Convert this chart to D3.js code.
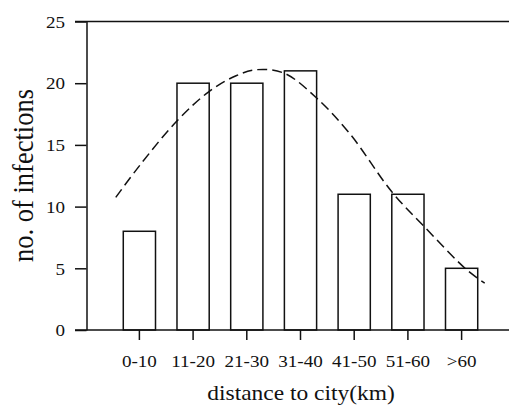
<!DOCTYPE html>
<html>
<head>
<meta charset="utf-8">
<script src="https://cdn.jsdelivr.net/npm/d3@7"></script>
<style>
  body { margin: 0; background: #fff; }
  text { font-family: "Liberation Serif", "Times New Roman", serif; fill: #111; }
</style>
</head>
<body>
<svg id="chart" width="510" height="409"></svg>
<script>
// categories and counts
var categories = ["0-10", "11-20", "21-30", "31-40", "41-50", "51-60", ">60"];
var infections = [8, 20, 20, 21, 11, 11, 5];
var yTicks = [0, 5, 10, 15, 20, 25];

// fitted curve (x = category position, 0 = first bar)
var curveX = [-0.44, 0.0, 0.69, 1.29, 1.8, 2.2, 2.7, 3.3, 3.92, 4.7, 5.3, 6.09, 6.43];
var curveY = [10.75, 13.3, 16.9, 19.3, 20.6, 21.1, 20.8, 18.8, 15.9, 11.2, 8.4, 4.9, 3.8];

var svg = d3.select("#chart");
var stroke = "#111";

var y = d3.scaleLinear().domain([0, 25]).range([330, 21.5]);

var x = d3.scaleBand()
    .domain(categories)
    .range([101.8, 499.2])
    .paddingInner(0.4)
    .paddingOuter(0.4);

// fractional category index -> pixel of bar centre
var xPos = d3.scaleLinear()
    .domain([0, 1])
    .range([x(categories[0]) + x.bandwidth() / 2, x(categories[1]) + x.bandwidth() / 2]);

// bars
svg.append("g")
  .selectAll("rect")
  .data(infections)
  .enter().append("rect")
    .attr("x", function(d, i) { return x(categories[i]); })
    .attr("y", function(d) { return y(d); })
    .attr("width", x.bandwidth())
    .attr("height", function(d) { return y(0) - y(d); })
    .attr("fill", "#fff")
    .attr("stroke", stroke)
    .attr("stroke-width", 1.5);

// dashed curve
var line = d3.line()
    .x(function(d) { return xPos(d[0]); })
    .y(function(d) { return y(d[1]); })
    .curve(d3.curveCatmullRom);

svg.append("path")
    .datum(d3.zip(curveX, curveY))
    .attr("d", line)
    .attr("fill", "none")
    .attr("stroke", stroke)
    .attr("stroke-width", 1.5)
    .attr("stroke-dasharray", "10,5");

// frame lines
svg.append("line")
    .attr("x1", 75).attr("x2", 509)
    .attr("y1", y(0)).attr("y2", y(0))
    .attr("stroke", stroke).attr("stroke-width", 1.5);
svg.append("line")
    .attr("x1", 75).attr("x2", 509)
    .attr("y1", y(25)).attr("y2", y(25))
    .attr("stroke", stroke).attr("stroke-width", 1.5);

// y axis
var yAxis = svg.append("g")
    .attr("transform", "translate(86.5,0)")
    .call(d3.axisLeft(y).tickValues(yTicks).tickSize(11.5).tickSizeOuter(0).tickPadding(10));
yAxis.selectAll("path, line").attr("stroke", stroke).attr("stroke-width", 1.5);
yAxis.selectAll("text").attr("font-size", 17.5).attr("dy", "0.33em");

// x axis ticks
var xAxis = svg.append("g")
    .attr("transform", "translate(0," + y(0) + ")")
    .call(d3.axisBottom(x).tickSize(10).tickPadding(15));
xAxis.select(".domain").remove();
xAxis.selectAll("line").attr("stroke", stroke).attr("stroke-width", 1.5);
xAxis.selectAll("text").attr("font-size", 17.5).attr("dy", "0.68em");

svg.selectAll(".tick text").style("font-family", '"Liberation Serif", serif').attr("fill", "#111");

// axis titles
svg.append("text")
    .attr("class", "xlabel")
    .attr("x", (x.range()[0] + x.range()[1]) / 2 + 0.5)
    .attr("y", 400)
    .attr("text-anchor", "middle")
    .attr("font-size", 21.5)
    .text("distance to city(km)");

svg.append("text")
    .attr("transform", "translate(33,175.5) scale(1.15,1) rotate(-90)")
    .attr("text-anchor", "middle")
    .attr("font-size", 26.5)
    .text("no. of infections");

// the source picture is a bit wider than tall: stretch horizontal text
svg.selectAll(".tick text, .xlabel").each(function() {
  var w = this.getComputedTextLength();
  d3.select(this).attr("textLength", w * 1.09).attr("lengthAdjust", "spacingAndGlyphs");
});
</script>
</body>
</html>
